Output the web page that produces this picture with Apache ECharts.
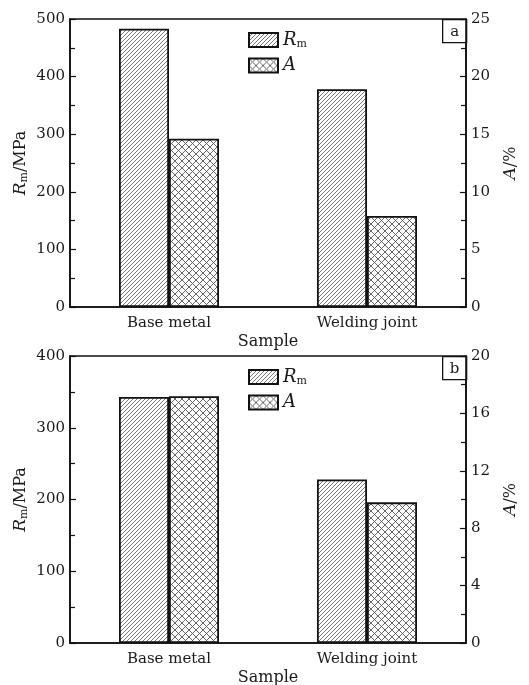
<!DOCTYPE html>
<html>
<head>
<meta charset="utf-8">
<script src="https://cdn.jsdelivr.net/npm/echarts@6/dist/echarts.min.js"></script>
<style>html,body{margin:0;padding:0;background:#fff}#c{width:529px;height:685px}</style>
</head>
<body>
<div id="c"></div>
<script>
// ---- data ----
var categories = ['Base metal', 'Welding joint'];
var rmTop = [483, 378];      // Rm (MPa), panel a
var elongTop = [14.6, 7.9];  // A (%), panel a
var rmBottom = [343, 228];   // Rm (MPa), panel b
var elongBottom = [17.2, 9.8]; // A (%), panel b
var seriesNames = ['Rm', 'A'];
var panelLabels = ['a', 'b'];

// ---- patterns ----
function diagPattern() {
  var c = document.createElement('canvas');
  c.width = 4; c.height = 4;
  var g = c.getContext('2d');
  g.fillStyle = '#fff'; g.fillRect(0, 0, 4, 4);
  g.strokeStyle = '#555'; g.lineWidth = 0.8;
  g.beginPath();
  g.moveTo(-1, 5); g.lineTo(5, -1);
  g.moveTo(-1, 1); g.lineTo(1, -1);
  g.moveTo(3, 5); g.lineTo(5, 3);
  g.stroke();
  return c;
}
function crossPattern() {
  var s = 7;
  var c = document.createElement('canvas');
  c.width = s; c.height = s;
  var g = c.getContext('2d');
  g.fillStyle = '#fff'; g.fillRect(0, 0, s, s);
  g.strokeStyle = '#555'; g.lineWidth = 0.9;
  g.beginPath();
  g.moveTo(0, 0); g.lineTo(s, s);
  g.moveTo(0, s); g.lineTo(s, 0);
  g.stroke();
  return c;
}
var diagFill = { image: diagPattern(), repeat: 'repeat' };
var crossFill = { image: crossPattern(), repeat: 'repeat' };

var FONT = 'DejaVu Serif';
var TXT = '#1a1a1a';
var AX = '#111';

function valAxis(gridIdx, pos, max, interval, nameStr, nameGap) {
  return {
    type: 'value', gridIndex: gridIdx, position: pos,
    min: 0, max: max, interval: interval,
    name: nameStr, nameLocation: 'middle', nameGap: nameGap, nameRotate: 90,
    nameMoveOverlap: false,
    nameTextStyle: {
      fontFamily: FONT, fontSize: 16, color: TXT,
      rich: {
        i: { fontFamily: FONT, fontStyle: 'italic', fontSize: 17, color: TXT },
        s: { fontFamily: FONT, fontSize: 11, color: TXT, verticalAlign: 'bottom', padding: [8, 0, 0, 0] },
        n: { fontFamily: FONT, fontSize: 16, color: TXT }
      }
    },
    axisLine: { show: true, lineStyle: { color: AX, width: 1.6 } },
    axisTick: { show: true, inside: true, length: 6, lineStyle: { color: AX, width: 1.2 } },
    minorTick: { show: true, splitNumber: 2, length: 5, lineStyle: { color: AX, width: 1.2 } },
    splitLine: { show: false },
    axisLabel: { fontFamily: FONT, fontSize: 15, color: TXT, margin: 5 }
  };
}
function catAxis(gridIdx) {
  return {
    type: 'category', gridIndex: gridIdx, data: categories,
    name: 'Sample', nameLocation: 'middle', nameGap: 27,
    nameTextStyle: { fontFamily: FONT, fontSize: 16, color: TXT },
    axisLine: { lineStyle: { color: AX, width: 1.6 } },
    axisTick: { show: false },
    axisLabel: { fontFamily: FONT, fontSize: 15, color: TXT, margin: 9 }
  };
}
function barSeries(name, xi, yi, data, fill) {
  return {
    type: 'bar', name: name, xAxisIndex: xi, yAxisIndex: yi, data: data,
    barWidth: 50, barGap: '0%',
    itemStyle: { color: fill, borderColor: '#111', borderWidth: 1.8 },
    emphasis: { disabled: true },
    animation: false
  };
}
function legend(top) {
  return {
    left: 243, top: top, orient: 'vertical',
    itemWidth: 29, itemHeight: 14, itemGap: 7,
    icon: 'rect',
    data: seriesNames,
    itemStyle: { borderColor: '#111', borderWidth: 2 },
    textStyle: {
      fontFamily: FONT, fontSize: 16, color: TXT,
      rich: {
        i: { fontFamily: FONT, fontStyle: 'italic', fontSize: 18, color: TXT },
        s: { fontFamily: FONT, fontSize: 11, color: TXT, verticalAlign: 'bottom', padding: [8, 0, 0, 0] }
      }
    },
    formatter: function (n) { return n === 'Rm' ? '{i|R}{s|m}' : '{i|A}'; },
    selectedMode: false
  };
}
function panelBox(x, y, label) {
  return {
    type: 'group', left: x, top: y,
    children: [
      { type: 'rect', shape: { x: 0, y: 0, width: 24, height: 23 }, style: { fill: '#fff', stroke: AX, lineWidth: 1.3 } },
      { type: 'text', style: { text: label, x: 12, y: 12, textAlign: 'center', textVerticalAlign: 'middle', font: '15px "DejaVu Serif"', fill: TXT } }
    ]
  };
}

var rmName = '{i|R}{s|m}{n|/MPa}';
var aName = '{i|A}{n|/%}';

var chart = echarts.init(document.getElementById('c'), null, { renderer: 'canvas' });
chart.setOption({
  backgroundColor: '#fff',
  animation: false,
  grid: [
    { left: 70, right: 63, top: 19, height: 288, show: true, borderColor: AX, borderWidth: 1.6, containLabel: false, outerBoundsMode: 'none' },
    { left: 70, right: 63, top: 356, height: 287, show: true, borderColor: AX, borderWidth: 1.6, containLabel: false, outerBoundsMode: 'none' }
  ],
  legend: [legend(26), legend(363)],
  xAxis: [catAxis(0), catAxis(1)],
  yAxis: [
    valAxis(0, 'left', 500, 100, rmName, 40),
    valAxis(0, 'right', 25, 5, aName, 36),
    valAxis(1, 'left', 400, 100, rmName, 40),
    valAxis(1, 'right', 20, 4, aName, 36)
  ],
  series: [
    barSeries('Rm', 0, 0, rmTop, diagFill),
    barSeries('A', 0, 1, elongTop, crossFill),
    barSeries('Rm', 1, 2, rmBottom, diagFill),
    barSeries('A', 1, 3, elongBottom, crossFill)
  ],
  graphic: [panelBox(442, 19, panelLabels[0]), panelBox(442, 356, panelLabels[1])]
});
</script>
</body>
</html>
